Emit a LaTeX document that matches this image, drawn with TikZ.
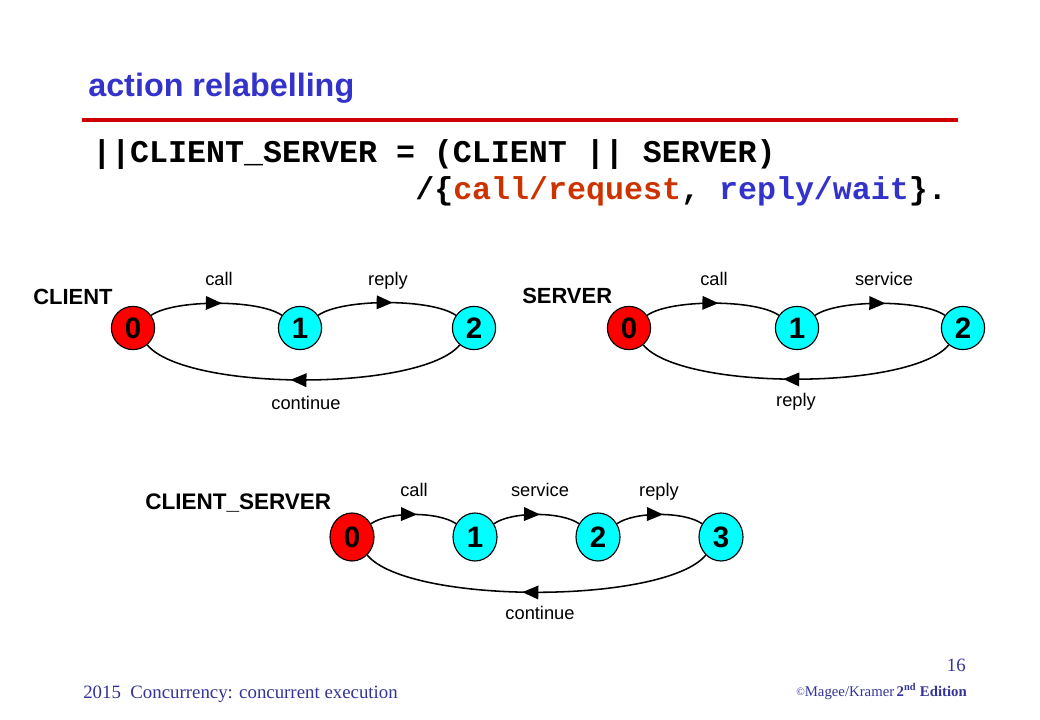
\documentclass[tikz,border=0pt]{standalone}
\usepackage{fontspec}
\setmainfont{Liberation Sans}
\newfontfamily\codefont{Liberation Mono}
\newfontfamily\footfont{Liberation Serif}
\usetikzlibrary{arrows.meta,decorations.markings,shapes.geometric}
\definecolor{titleblue}{RGB}{51,51,204}
\definecolor{rulered}{RGB}{204,0,0}
\definecolor{codered}{RGB}{204,51,0}
\definecolor{statered}{RGB}{255,0,0}
\definecolor{statecyan}{RGB}{0,255,255}
\definecolor{footblue}{RGB}{51,51,153}
\begin{document}
\begin{tikzpicture}[x=0.025cm,y=-0.025cm,
    state/.style={circle,draw,line width=0.8pt,minimum size=1.08cm,inner sep=0pt,
        font=\fontsize{21}{21}\selectfont\bfseries},
    oval/.style={state,ellipse,minimum width=1.1cm,minimum height=1.2cm},
    trans/.style={line width=1.1pt,postaction={decorate},
        decoration={markings,mark=at position 0.54 with {\arrow{Triangle[length=0.4cm,width=0.34cm]}}}},
    lbl/.style={anchor=base,font=\fontsize{13}{13}\selectfont},
    procname/.style={anchor=base west,font=\fontsize{15.6}{15.6}\selectfont\bfseries}]
    \useasboundingbox (0,0) rectangle (1040,720);
    % title and rule
    \node[anchor=base west,inner sep=0pt,text=titleblue,font=\fontsize{23}{23}\selectfont\bfseries]
        (title) at (88,97) {action relabelling};
    \draw[rulered,line width=2.8pt] (82,120) -- (958,120);
    % FSP definition
    \node[anchor=base west,inner sep=0pt,font=\fontsize{22.5}{22.5}\codefont\bfseries]
        (defa) at (92,163) {||CLIENT\_SERVER = (CLIENT || SERVER)};
    \node[anchor=base west,inner sep=0pt,font=\fontsize{22.5}{22.5}\codefont\bfseries]
        (defb) at (415,200) {/\{\textcolor{codered}{call/request}, \textcolor{titleblue}{reply/wait}\}.};
    % CLIENT
    \node[procname,inner sep=0pt] (client) at (33,305) {CLIENT};
    \node[state,fill=statered] (c0) at (133,328) {0};
    \node[state,fill=statecyan] (c1) at (300,328) {1};
    \node[state,fill=statecyan] (c2) at (474,328) {2};
    \draw[trans] (c0) to[bend left=35,looseness=0.55] (c1);
    \draw[trans] (c1) to[bend left=35,looseness=0.55] (c2);
    \draw[trans] (c2) to[bend left=50,looseness=0.5] (c0);
    \node[lbl] (ccall) at (219,286) {call};
    \node[lbl] (creply) at (388,286) {reply};
    \node[lbl] (ccont) at (306,410) {continue};
    % SERVER
    \node[procname,inner sep=0pt] (server) at (522,304) {SERVER};
    \node[state,fill=statered] (s0) at (629,328) {0};
    \node[state,fill=statecyan] (s1) at (797,328) {1};
    \node[state,fill=statecyan] (s2) at (963,328) {2};
    \draw[trans] (s0) to[bend left=35,looseness=0.55] (s1);
    \draw[trans] (s1) to[bend left=35,looseness=0.55] (s2);
    \draw[trans] (s2) to[bend left=50,looseness=0.5] (s0);
    \node[lbl] (scall) at (714,286) {call};
    \node[lbl] (sservice) at (884,286) {service};
    \node[lbl] (sreply) at (796,407) {reply};
    % CLIENT_SERVER
    \node[procname,inner sep=0pt,font=\fontsize{16}{16}\selectfont\bfseries] (cs) at (145,510) {CLIENT\_SERVER};
    \node[oval,fill=statered] (cs0) at (352,537) {0};
    \node[oval,fill=statecyan] (cs1) at (475,537) {1};
    \node[oval,fill=statecyan] (cs2) at (598,537) {2};
    \node[oval,fill=statecyan] (cs3) at (721,537) {3};
    \draw[trans] (cs0) to[bend left=35,looseness=0.65] (cs1);
    \draw[trans] (cs1) to[bend left=35,looseness=0.65] (cs2);
    \draw[trans] (cs2) to[bend left=35,looseness=0.65] (cs3);
    \draw[trans] (cs3) to[bend left=50,looseness=0.49] (cs0);
    \node[lbl] (cscall) at (414,497) {call};
    \node[lbl] (csservice) at (540,497) {service};
    \node[lbl] (csreply) at (659,497) {reply};
    \node[lbl] (cscont) at (540,620) {continue};
    % footer
    \node[anchor=base west,inner sep=0pt,text=footblue,font=\fontsize{13.4}{13.4}\footfont]
        (course) at (83,698) {2015\ \ Concurrency: concurrent execution};
    \node[anchor=base east,inner sep=0pt,text=footblue,font=\fontsize{13.4}{13.4}\footfont]
        (page) at (966,671) {16};
    \node[anchor=base east,inner sep=0pt,text=footblue,font=\fontsize{10.5}{10.5}\footfont]
        (copy) at (967,696) {\raisebox{0.5pt}{\fontsize{8}{8}\selectfont\textcopyright}Magee/Kramer\,\textbf{2\textsuperscript{nd} Edition}};
\end{tikzpicture}
\end{document}
